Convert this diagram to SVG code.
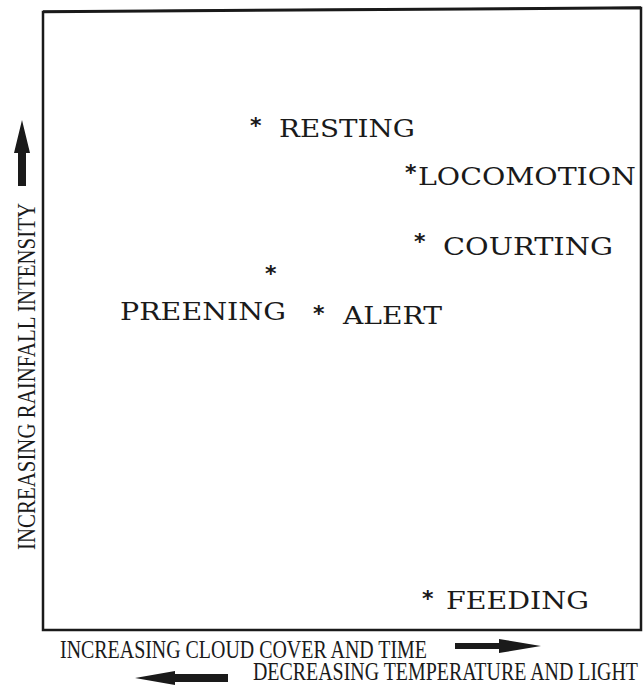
<svg xmlns="http://www.w3.org/2000/svg" width="644" height="692" viewBox="0 0 644 692">
<style>
.lbl{font-family:"DejaVu Serif","Liberation Serif",serif;font-size:25px;fill:#1a1a1a}
.star{font-family:"DejaVu Sans","Liberation Sans",sans-serif;font-size:22px;fill:#1a1a1a;font-weight:bold}
.axis{font-family:"Liberation Serif","Times New Roman",serif;font-size:25px;fill:#1a1a1a}
.frame{fill:none;stroke:#1a1a1a;stroke-width:2.5}
.arr{fill:#1a1a1a}
</style>
<rect width="644" height="692" fill="#ffffff"/>
<g id="frame">
<path class="frame" d="M43,12 L641,8 L641,630 L43,630 Z"/>
<path d="M43,11 L641,7" stroke="#1a1a1a" stroke-width="1.5" fill="none"/>
</g>
<g id="resting">
<text class="star" x="250" y="133">*</text>
<text class="lbl" x="279" y="137" textLength="136" lengthAdjust="spacingAndGlyphs">RESTING</text>
</g>
<g id="locomotion">
<text class="star" x="405" y="180">*</text>
<text class="lbl" x="418" y="185" textLength="218" lengthAdjust="spacingAndGlyphs">LOCOMOTION</text>
</g>
<g id="courting">
<text class="star" x="414" y="249">*</text>
<text class="lbl" x="443" y="255" textLength="170" lengthAdjust="spacingAndGlyphs">COURTING</text>
</g>
<g id="preening">
<text class="star" x="265" y="281">*</text>
<text class="lbl" x="120" y="320" textLength="166" lengthAdjust="spacingAndGlyphs">PREENING</text>
</g>
<g id="alert">
<text class="star" x="313" y="321">*</text>
<text class="lbl" x="343" y="324" textLength="99" lengthAdjust="spacingAndGlyphs">ALERT</text>
</g>
<g id="feeding">
<text class="star" x="422" y="606">*</text>
<text class="lbl" x="446" y="609" textLength="143" lengthAdjust="spacingAndGlyphs">FEEDING</text>
</g>
<g id="y-axis">
<text class="axis" transform="translate(35,550) rotate(-90)" x="0" y="0" textLength="347" lengthAdjust="spacingAndGlyphs">INCREASING RAINFALL INTENSITY</text>
<path class="arr" d="M22,120 L30,153 L26,153 L26,186 L18,186 L18,153 L14,153 Z"/>
</g>
<g id="x-axis">
<text class="axis" x="60" y="658" textLength="367" lengthAdjust="spacingAndGlyphs">INCREASING CLOUD COVER AND TIME</text>
<path class="arr" d="M455,643 L499,643 L499,639 L541,646 L499,653 L499,649 L455,649 Z"/>
<text class="axis" x="253" y="680" textLength="385" lengthAdjust="spacingAndGlyphs">DECREASING TEMPERATURE AND LIGHT</text>
<path class="arr" d="M135,678 L175,671 L175,674 L228,674 L228,682 L175,682 L175,685 Z"/>
</g>
</svg>
